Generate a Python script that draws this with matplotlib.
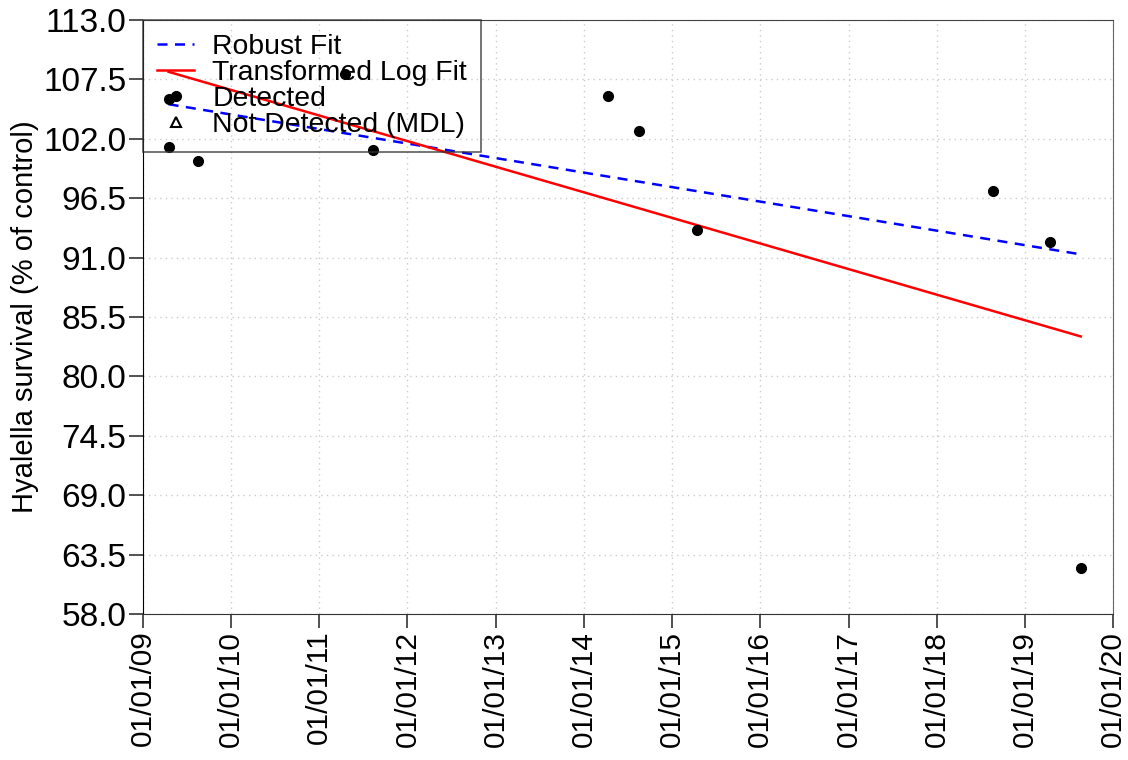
import matplotlib
matplotlib.use("Agg")
import matplotlib.pyplot as plt
import matplotlib.dates as mdates
from datetime import datetime

plt.rcParams["font.family"] = ["Liberation Sans", "DejaVu Sans"]

# detected samples
det_dates = ["2009-04-17", "2009-04-17", "2009-08-15", "2011-04-16", "2011-08-13",
             "2014-04-12", "2014-08-15", "2015-04-16", "2018-08-20", "2019-04-13",
             "2019-08-20"]
det_vals = [105.7, 101.2, 99.9, 108.0, 101.0, 106.0, 102.7, 93.6, 97.2, 92.4, 62.3]

fit_dates = ["2009-04-17", "2019-08-20"]
robust_vals = [105.2, 91.3]
logfit_vals = [108.2, 83.7]

y_ticks = [58.0, 63.5, 69.0, 74.5, 80.0, 85.5, 91.0, 96.5, 102.0, 107.5, 113.0]
x_years = list(range(2009, 2021))

to_dt = lambda s: [datetime.strptime(d, "%Y-%m-%d") for d in s]

fig = plt.figure(figsize=(11.28, 7.6), dpi=100)
ax = fig.add_axes([0.1268, 0.1921, 0.86, 0.7816])

ax.plot(to_dt(fit_dates), robust_vals, color="#0000FF", linestyle=(0, (4, 3)),
        linewidth=1.8, label="Robust Fit")
ax.plot(to_dt(fit_dates), logfit_vals, color="#FF0000", linewidth=1.8,
        label="Transformed Log Fit")
ax.plot(to_dt(det_dates), det_vals, "o", color="black", markersize=7,
        linestyle="none", label="Detected")
ax.plot([], [], "^", markerfacecolor="white", markeredgecolor="black",
        markeredgewidth=1.5, markersize=7, linestyle="none",
        label="Not Detected (MDL)")

ax.set_ylim(58, 113)
ax.set_yticks(y_ticks)
ax.set_yticklabels([f"{v:.1f}" for v in y_ticks])
ticks = [datetime(y, 1, 1) for y in x_years]
ax.set_xlim(ticks[0], ticks[-1])
ax.set_xticks(ticks)
ax.xaxis.set_major_formatter(mdates.DateFormatter("%m/%d/%y"))
plt.setp(ax.get_xticklabels(), rotation=90)

ax.tick_params(axis="both", length=10, width=1.2, color="#333333", pad=2)
ax.tick_params(axis="y", labelsize=24)
ax.tick_params(axis="x", labelsize=21.5)
ax.set_ylabel("Hyalella survival (% of control)", fontsize=21, labelpad=3)
ax.grid(True, color="#cccccc", linestyle=(0, (1, 3)), linewidth=1)

ax.spines["left"].set_color("black")
ax.spines["top"].set_color("#444444")
ax.spines["bottom"].set_linestyle((0, (3, 1)))
ax.spines["bottom"].set_color("#333333")
ax.spines["right"].set_linestyle((0, (3, 1)))
ax.spines["right"].set_color("#666666")

leg = ax.legend(loc="upper left", fontsize=20.4, frameon=True, fancybox=False,
                borderaxespad=0, labelspacing=0.0, handlelength=1.3,
                handletextpad=0.65, borderpad=0.5)
leg.get_frame().set_facecolor("none")
leg.get_frame().set_edgecolor("#333333")
leg.get_frame().set_linewidth(1.2)

fig.savefig("out.png", dpi=100)
